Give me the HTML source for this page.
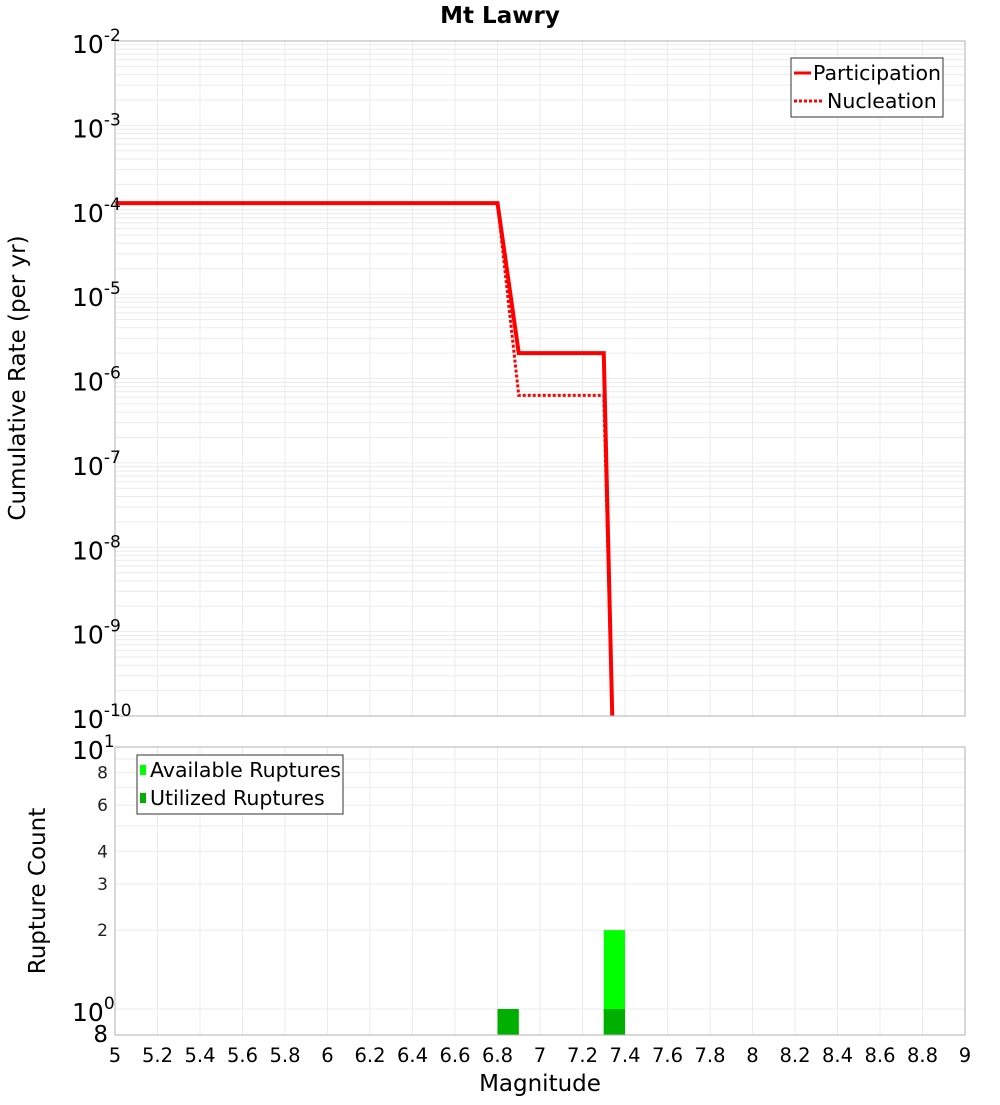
<!DOCTYPE html>
<html><head><meta charset="utf-8"><style>
body{margin:0;background:#fff;font-family:"Liberation Sans","DejaVu Sans",sans-serif}
svg text{font-family:"DejaVu Sans","Liberation Sans",sans-serif}
</style></head><body>
<svg id="c" width="1000" height="1100" xmlns="http://www.w3.org/2000/svg"></svg>
<script>
const partMags=[5,6.8,6.9,7.3,7.34];
const partRates=[1.2e-4,1.2e-4,2e-6,2e-6,1e-10];
const nuclMags=[5,6.8,6.9,7.3,7.34];
const nuclRates=[1.2e-4,1.2e-4,6.3e-7,6.3e-7,1e-10];
const binStarts=[6.8,7.3];
const availCounts=[1,2];
const usedCounts=[1,1];
const xTicks=[5,5.2,5.4,5.6,5.8,6,6.2,6.4,6.6,6.8,7,7.2,7.4,7.6,7.8,8,8.2,8.4,8.6,8.8,9];
const topExps=[-2,-3,-4,-5,-6,-7,-8,-9,-10];
const botMinor=[8,6,4,3,2];

const NS="http://www.w3.org/2000/svg";
const svg=document.getElementById('c');
const L=115,R=965,T1=41,B1=716,T2=747,B2=1035;
const x=m=>L+(m-5)/4*(R-L);
const y1=v=>T1+(-2-Math.log10(v))*(B1-T1)/8;
const y2=v=>T2+(1-Math.log10(v))*262;
function el(t,a,txt){const e=document.createElementNS(NS,t);for(const k in a)e.setAttribute(k,a[k]);if(txt!==undefined)e.textContent=txt;svg.appendChild(e);return e;}

for(let d=-10;d<-2;d++)for(let k=1;k<10;k++){const v=k*Math.pow(10,d);const g=el('line',{x1:L,x2:R,y1:y1(v),y2:y1(v),stroke:'#ebebeb','stroke-width':1});

}
for(let k=1;k<=10;k++){const g=el('line',{x1:L,x2:R,y1:y2(k),y2:y2(k),stroke:'#ebebeb','stroke-width':1});

}
xTicks.forEach(t=>{[[T1,B1],[T2,B2]].forEach(([a,b])=>{const g=el('line',{x1:x(t),x2:x(t),y1:a,y2:b,stroke:'#ebebeb','stroke-width':1});

});});

binStarts.forEach((s,i)=>{
 const a=el('rect',{x:x(s),y:y2(availCounts[i]),width:x(s+0.1)-x(s),height:B2-y2(availCounts[i]),fill:'#00ff00'});
 
 
 const u=el('rect',{x:x(s),y:y2(usedCounts[i]),width:x(s+0.1)-x(s),height:B2-y2(usedCounts[i]),fill:'#00b000'});
 
 
});

const clip=el('clipPath',{id:'cp'});const cr=document.createElementNS(NS,'rect');cr.setAttribute('x',L);cr.setAttribute('y',T1);cr.setAttribute('width',R-L);cr.setAttribute('height',B1-T1);clip.appendChild(cr);
const pn=el('polyline',{points:nuclMags.map((m,i)=>x(m)+','+y1(nuclRates[i])).join(' '),fill:'none',stroke:'#ff0000','stroke-width':3,'stroke-dasharray':'3,2','clip-path':'url(#cp)'});


const pp=el('polyline',{points:partMags.map((m,i)=>x(m)+','+y1(partRates[i])).join(' '),fill:'none',stroke:'#ff0000','stroke-width':4,'clip-path':'url(#cp)'});



[[T1,B1],[T2,B2]].forEach(([a,b],i)=>{const f=el('rect',{x:L,y:a,width:R-L,height:b-a,fill:'none',stroke:'#b0b0b0','stroke-width':1});

});

topExps.forEach(e=>{const t=el('text',{x:72,y:y1(Math.pow(10,e))+12,'font-size':25,fill:'#000'});


t.innerHTML='10<tspan dy="-12" font-size="17">'+e+'</tspan>';});
[[10,'1'],[1,'0']].forEach(([v,e])=>{const t=el('text',{x:72,y:y2(v)+12,'font-size':25,fill:'#000'});


t.innerHTML='10<tspan dy="-12" font-size="17">'+e+'</tspan>';});
botMinor.forEach(v=>{const t=el('text',{x:108,y:y2(v)+6,'font-size':17,fill:'#222','text-anchor':'end'},String(v));

});
const b8=el('text',{x:108,y:1042,'font-size':23,fill:'#000','text-anchor':'end'},'8');



xTicks.forEach(t=>{const e=el('text',{x:x(t),y:1062,'font-size':19.5,fill:'#000','text-anchor':'middle'},String(t));

});

const tt=el('text',{x:500,y:23,'font-size':23,'font-weight':'bold','text-anchor':'middle'},'Mt Lawry');


const xt=el('text',{x:540,y:1091,'font-size':23,'text-anchor':'middle'},'Magnitude');


const yt=el('text',{x:0,y:0,'font-size':23,'text-anchor':'middle',transform:'translate(25,378) rotate(-90)'},'Cumulative Rate (per yr)');


const yb=el('text',{x:0,y:0,'font-size':23,'text-anchor':'middle',transform:'translate(45,891) rotate(-90)'},'Rupture Count');



const lg=el('rect',{x:791,y:58,width:152,height:59,fill:'#fff',stroke:'#333'});


const l1=el('line',{x1:794,x2:811,y1:73,y2:73,stroke:'#f00','stroke-width':3});


const l2=el('line',{x1:794,x2:822,y1:101,y2:101,stroke:'#f00','stroke-width':3,'stroke-dasharray':'3,2'});


const lt1=el('text',{x:813,y:80,'font-size':20.5},'Participation');


const lt2=el('text',{x:827,y:108,'font-size':20.5},'Nucleation');



const lg2=el('rect',{x:137,y:755,width:206,height:59,fill:'#fff',stroke:'#333'});


const s1=el('rect',{x:140,y:765,width:6,height:10,fill:'#00ff00'});


const s2=el('rect',{x:140,y:793,width:6,height:10,fill:'#00b000'});


const bt1=el('text',{x:150,y:777,'font-size':20.5},'Available Ruptures');


const bt2=el('text',{x:150,y:805,'font-size':20.5},'Utilized Ruptures');


</script>
</body></html>
